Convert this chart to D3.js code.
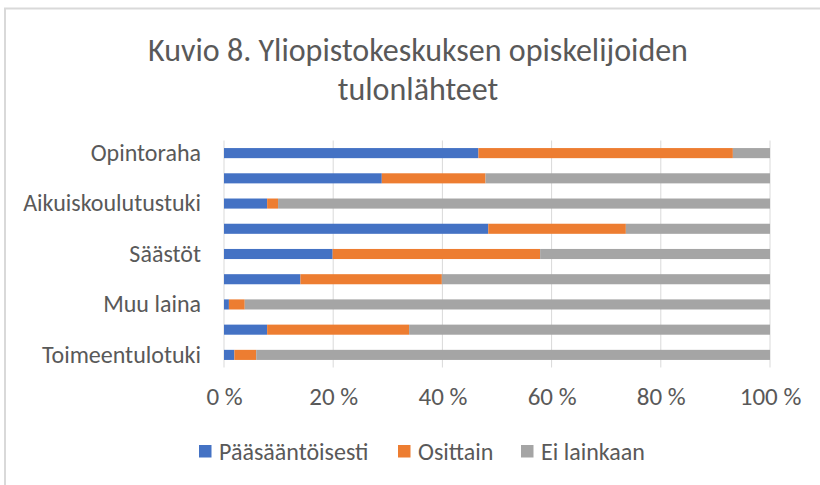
<!DOCTYPE html>
<html>
<head>
<meta charset="utf-8">
<script src="https://cdn.jsdelivr.net/npm/d3@7"></script>
<style>
  body { margin: 0; background: #fff; }
  text { font-family: Carlito, Lato, "Open Sans", sans-serif; fill: #595959; }
</style>
</head>
<body>
<script>
// categories top to bottom (only every other one is labelled, as in the original)
var categories = ["Opintoraha", "Opintolaina", "Aikuiskoulutustuki", "Palkkatulot",
                  "Säästöt", "Vanhempien tuki", "Muu laina", "Puolison tuki", "Toimeentulotuki"];
var seriesNames = ["Pääsääntöisesti", "Osittain", "Ei lainkaan"];
var paaasiallisesti = [46.6, 28.9, 7.9, 48.4, 19.9, 14.0, 0.9, 7.9, 1.9];
var osittain        = [46.6, 19.0, 2.0, 25.2, 38.0, 25.9, 2.9, 26.0, 4.0];
var eiLainkaan      = [6.8, 52.1, 90.1, 26.4, 42.1, 60.1, 96.2, 66.1, 94.1];
var xTicks = [0, 20, 40, 60, 80, 100];
var colors = ["#4472C4", "#ED7D31", "#A5A5A5"];
var fontStack = "Carlito, Lato, 'Open Sans', sans-serif";

var width = 820, height = 485;
var margin = {top: 140.5, left: 224};
var plotW = 770 - margin.left;
var plotH = 367.5 - margin.top;

var svg = d3.select("body").append("svg")
    .attr("width", width)
    .attr("height", height);

// chart border (only top and left visible)
svg.append("path")
    .attr("d", "M5,485 L5,8.5 L820,8.5")
    .attr("fill", "none")
    .attr("stroke", "#d9d9d9")
    .attr("stroke-width", 2);

// title
var title = svg.append("text")
    .attr("text-anchor", "middle")
    .style("font-size", "32px");
title.append("tspan").attr("x", 418).attr("y", 61).text("Kuvio 8. Yliopistokeskuksen opiskelijoiden");
title.append("tspan").attr("x", 418).attr("y", 100).text("tulonlähteet");

var xScale = d3.scaleLinear().domain([0, 100]).range([0, plotW]);
var yScale = d3.scaleBand().domain(categories).range([0, plotH]).paddingInner(0.6).paddingOuter(0.3);

var canvas = svg.append("g")
    .attr("transform", "translate(" + margin.left + "," + margin.top + ")");

// gridlines
canvas.selectAll(".grid")
    .data(xTicks)
    .enter().append("line")
    .attr("x1", function(d) { return xScale(d); })
    .attr("x2", function(d) { return xScale(d); })
    .attr("y1", 0)
    .attr("y2", plotH)
    .attr("stroke", "#d9d9d9")
    .attr("stroke-width", 1);

// stack data
var rows = categories.map(function(c, i) {
    return {cat: c, a: paaasiallisesti[i], b: osittain[i], c: eiLainkaan[i]};
});
var stack = d3.stack().keys(["a", "b", "c"]);
var layers = stack(rows);

canvas.selectAll(".layer")
    .data(layers)
    .enter().append("g")
    .attr("fill", function(d, i) { return colors[i]; })
    .selectAll("rect")
    .data(function(d) { return d; })
    .enter().append("rect")
    .attr("x", function(d) { return xScale(d[0]); })
    .attr("y", function(d) { return yScale(d.data.cat); })
    .attr("width", function(d) { return Math.max(0, xScale(d[1]) - xScale(d[0])); })
    .attr("height", yScale.bandwidth());

// y axis labels (every other category)
var yAxis = d3.axisLeft(yScale)
    .tickSize(0)
    .tickPadding(23)
    .tickFormat(function(d, i) { return i % 2 == 0 ? d : ""; });
var gy = canvas.append("g").call(yAxis);
gy.select(".domain").remove();
gy.selectAll("text")
    .style("font-size", "24px")
    .style("font-family", fontStack)
    .attr("fill", "#595959");

// x axis
var xAxis = d3.axisBottom(xScale)
    .tickValues(xTicks)
    .tickSize(0)
    .tickPadding(22)
    .tickFormat(function(d) { return d + " %"; });
var gx = canvas.append("g")
    .attr("transform", "translate(0," + plotH + ")")
    .call(xAxis);
gx.select(".domain").remove();
gx.selectAll("text")
    .attr("y", 0)
    .attr("dy", 0)
    .attr("transform", "translate(0,37.5)")
    .style("font-size", "25px")
    .style("font-family", fontStack)
    .attr("fill", "#595959");

// legend
var legendX = [199, 398, 521];
var legend = svg.selectAll(".legend")
    .data(seriesNames)
    .enter().append("g")
    .attr("transform", function(d, i) { return "translate(" + legendX[i] + ",445)"; });
legend.append("rect")
    .attr("width", 12.5)
    .attr("height", 12.5)
    .attr("fill", function(d, i) { return colors[i]; });
legend.append("text")
    .attr("x", 20)
    .attr("y", 14.5)
    .style("font-size", "24px")
    .text(function(d) { return d; });
</script>
</body>
</html>
